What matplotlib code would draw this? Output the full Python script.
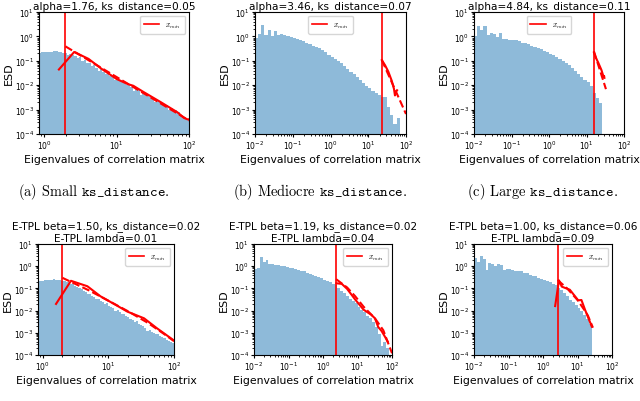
import numpy as np
import matplotlib.pyplot as plt

plt.rcParams['mathtext.fontset'] = 'cm'

# ESD histogram heights (log-spaced bins)
range_a = (0.85, 100)
esd_a = [0.21, 0.22, 0.22, 0.23, 0.23, 0.24, 0.25, 0.25, 0.24, 0.22,
         0.20, 0.21, 0.17, 0.19, 0.18, 0.16, 0.13, 0.14, 0.10, 0.11,
         0.085, 0.080, 0.062, 0.066, 0.052, 0.040, 0.046, 0.036, 0.030, 0.032,
         0.024, 0.027, 0.016, 0.020, 0.017, 0.013, 0.014, 0.010, 0.011, 0.0085,
         0.0060, 0.0078, 0.0062, 0.0040, 0.0052, 0.0046, 0.0040, 0.0033, 0.0032, 0.0021,
         0.0025, 0.0022, 0.0019, 0.0017, 0.0015, 0.0010, 0.0012, 0.0010, 0.00093, 0.00080,
         0.00058, 0.00050, 0.00045, 0.00040]

range_b = (0.01, 100)
esd_b = [0.83, 1.25, 3.0, 1.1, 1.9, 1.05, 1.7, 1.15, 1.2, 1.1,
         1.05, 0.95, 0.85, 0.75, 0.70, 0.65, 0.55, 0.50, 0.42, 0.36,
         0.32, 0.27, 0.22, 0.18, 0.15, 0.12, 0.095, 0.078, 0.062, 0.048,
         0.036, 0.028, 0.021, 0.016, 0.012, 0.0095, 0.0075, 0.0060, 0.0048, 0.0038,
         0.0034, 0.0032, 0.0013, 0.0006, 0.00025, 0.00045, 0, 0]

range_c = (0.01, 100)
esd_c = [1.05, 2.7, 1.9, 2.6, 1.1, 1.4, 1.25, 0.95, 1.35, 0.8,
         0.75, 0.70, 0.68, 0.68, 0.65, 0.55, 0.53, 0.50, 0.42, 0.38,
         0.32, 0.30, 0.26, 0.22, 0.19, 0.17, 0.14, 0.12, 0.10, 0.082,
         0.066, 0.052, 0.040, 0.030, 0.022, 0.017, 0.013, 0.0095, 0.0050, 0.0030,
         0.0018, 0, 0, 0, 0, 0, 0, 0]

range_d = (0.85, 100)
esd_d = [0.21, 0.22, 0.22, 0.23, 0.24, 0.24, 0.25, 0.26, 0.25, 0.24,
         0.23, 0.21, 0.22, 0.19, 0.20, 0.16, 0.15, 0.13, 0.12, 0.10,
         0.095, 0.080, 0.072, 0.058, 0.055, 0.046, 0.040, 0.033, 0.035, 0.027,
         0.025, 0.020, 0.021, 0.016, 0.015, 0.013, 0.0095, 0.011, 0.0090, 0.0072,
         0.0068, 0.0055, 0.0050, 0.0042, 0.0038, 0.0031, 0.0034, 0.0026, 0.0022, 0.0020,
         0.0017, 0.0012, 0.0014, 0.0011, 0.0010, 0.00085, 0.00090, 0.00070, 0.00062, 0.00060,
         0.00048, 0.00042, 0.00040, 0.00035]

range_e = (0.01, 100)
esd_e = [0.75, 0.80, 2.7, 1.5, 1.9, 1.2, 1.25, 1.15, 1.1, 1.0,
         1.0, 0.90, 0.85, 0.82, 0.75, 0.70, 0.62, 0.58, 0.50, 0.45,
         0.40, 0.36, 0.32, 0.28, 0.25, 0.21, 0.20, 0.16, 0.14, 0.10,
         0.080, 0.062, 0.045, 0.035, 0.026, 0.021, 0.015, 0.011, 0.0085, 0.0060,
         0.0045, 0.0030, 0.0019, 0.0009, 0.00025, 0.0004, 0.0002, 0]

range_f = (0.01, 100)
esd_f = [2.4, 1.5, 2.8, 2.2, 0.7, 1.35, 1.3, 1.0, 1.3, 1.1,
         0.70, 0.75, 0.75, 0.70, 0.60, 0.62, 0.60, 0.52, 0.48, 0.42,
         0.38, 0.35, 0.30, 0.27, 0.25, 0.22, 0.19, 0.16, 0.14, 0.10,
         0.082, 0.060, 0.045, 0.030, 0.024, 0.018, 0.013, 0.010, 0.0065, 0.0040,
         0.0025, 0, 0, 0, 0, 0, 0, 0]

# x_min, empirical pdf above x_min (solid) and fitted pdf (dashed)
xmin_a = 1.97
solid_a_x = [1.6, 2.6, 4.1, 6.2, 10, 14.4, 17, 24, 41, 69, 85, 95, 100]
solid_a_y = [0.044, 0.23, 0.12, 0.047, 0.018, 0.011, 0.0095, 0.0051, 0.002, 0.00078, 0.00046, 0.0004, 0.0004]
dash_a_x = [1.97, 100]
dash_a_y = [0.39, 0.00036]

xmin_b = 22.9
solid_b_x = [22.9, 28, 34, 41.7, 48, 51, 55, 58]
solid_b_y = [0.107, 0.065, 0.036, 0.0155, 0.0071, 0.0038, 0.0055, 0.0062]
dash_b_x = [22.9, 100]
dash_b_y = [0.107, 0.00066]

xmin_c = 15.8
solid_c_x = [15.8, 17.5, 20.5, 25, 28.5, 29.5, 30]
solid_c_y = [0.22, 0.14, 0.085, 0.042, 0.022, 0.024, 0.02]
dash_c_x = [15.8, 33]
dash_c_y = [0.243, 0.0069]

xmin_d = 2.0
solid_d_x = [1.6, 2.7, 4.8, 7.6, 13, 19.5, 35, 55, 98]
solid_d_y = [0.02, 0.22, 0.125, 0.044, 0.018, 0.009, 0.0045, 0.0016, 0.00047]
dash_d_x = [2.0, 3, 5, 10, 20, 40, 70, 100]
dash_d_y = [0.30, 0.17, 0.083, 0.028, 0.0093, 0.0028, 0.0009, 0.00042]

xmin_e = 2.38
solid_e_x = [2.45, 3.5, 5, 8.5, 15, 25, 32, 40, 50, 63, 75]
solid_e_y = [0.17, 0.16, 0.095, 0.032, 0.011, 0.0065, 0.0045, 0.0018, 0.0012, 0.00065, 0.0004]
dash_e_x = [2.4, 5, 8.5, 15, 32, 56, 78, 100]
dash_e_y = [0.26, 0.11, 0.045, 0.015, 0.0045, 0.0013, 0.00033, 0.00012]

xmin_f = 2.65
solid_f_x = [2.25, 2.9, 3.5, 6, 10.5, 13, 16.5, 26]
solid_f_y = [0.016, 0.23, 0.12, 0.087, 0.029, 0.03, 0.011, 0.0019]
dash_f_x = [2.65, 5, 10, 15, 20, 28]
dash_f_y = [0.24, 0.10, 0.03, 0.012, 0.006, 0.0017]

titles = ["alpha=1.76, ks_distance=0.05",
          "alpha=3.46, ks_distance=0.07",
          "alpha=4.84, ks_distance=0.11",
          "E-TPL beta=1.50, ks_distance=0.02\nE-TPL lambda=0.01",
          "E-TPL beta=1.19, ks_distance=0.02\nE-TPL lambda=0.04",
          "E-TPL beta=1.00, ks_distance=0.06\nE-TPL lambda=0.09"]

captions = [r"(a) Small $\mathtt{ks\_distance}$.",
            r"(b) Mediocre $\mathtt{ks\_distance}$.",
            r"(c) Large $\mathtt{ks\_distance}$."]


def draw_panel(ax, xr, esd, xmin, sx, sy, dx, dy, title, loc):
    esd = np.array(esd)
    edges = np.logspace(np.log10(xr[0]), np.log10(xr[1]), len(esd) + 1)
    keep = esd > 0
    ax.bar(edges[:-1][keep], esd[keep], width=np.diff(edges)[keep], align='edge',
           color='#1f77b4', alpha=0.5, linewidth=0)
    ax.axvline(xmin, color='red', lw=1.2, label=r'$x_{min}$')
    ax.plot(sx, sy, color='red', lw=1.5)
    ax.plot(dx, dy, color='red', lw=1.5, ls='--')
    ax.set_xscale('log')
    ax.set_yscale('log')
    ax.set_xlim(xr)
    ax.set_ylim(1e-4, 10)
    # two-line titles are drawn line by line so each line keeps its own box
    lines = title.split("\n")
    ax.set_title(lines[-1], fontsize=7.6, pad=2.5)
    if len(lines) > 1:
        ax.annotate(lines[0], xy=(0.5, 1), xycoords='axes fraction', xytext=(0, 11.2),
                    textcoords='offset points', ha='center', va='baseline', fontsize=7.6)
    ax.set_xlabel("Eigenvalues of correlation matrix", fontsize=7.8, labelpad=2)
    ax.set_ylabel("ESD", fontsize=8, labelpad=0.5)
    ax.tick_params(labelsize=5.5, length=2, pad=1.5)
    ax.tick_params(which='minor', length=1.2)
    ax.legend(loc=loc, fontsize=5.5, handlelength=2.0, borderpad=0.5)


fig = plt.figure(figsize=(6.4, 4.02), dpi=100)
W, H = 640, 402
boxes = [(39, 13, 189, 135), (255, 13, 406, 135), (474, 13, 624, 135),
         (38, 245, 174, 356), (254, 245, 392, 356), (474, 245, 612, 356)]
axes = [fig.add_axes([l / W, 1 - b / H, (r - l) / W, (b - t) / H]) for l, t, r, b in boxes]

draw_panel(axes[0], range_a, esd_a, xmin_a, solid_a_x, solid_a_y, dash_a_x, dash_a_y, titles[0], 'upper right')
draw_panel(axes[1], range_b, esd_b, xmin_b, solid_b_x, solid_b_y, dash_b_x, dash_b_y, titles[1], 'upper center')
draw_panel(axes[2], range_c, esd_c, xmin_c, solid_c_x, solid_c_y, dash_c_x, dash_c_y, titles[2], 'upper center')
draw_panel(axes[3], range_d, esd_d, xmin_d, solid_d_x, solid_d_y, dash_d_x, dash_d_y, titles[3], 'upper right')
draw_panel(axes[4], range_e, esd_e, xmin_e, solid_e_x, solid_e_y, dash_e_x, dash_e_y, titles[4], 'upper right')
draw_panel(axes[5], range_f, esd_f, xmin_f, solid_f_x, solid_f_y, dash_f_x, dash_f_y, titles[5], 'upper right')

for x, cap in zip([94, 320, 542], captions):
    fig.text(x / W, 1 - 192 / H, cap, family='cmr10', fontsize=10.4, ha='center', va='center')

fig.savefig("out.png", dpi=100)
